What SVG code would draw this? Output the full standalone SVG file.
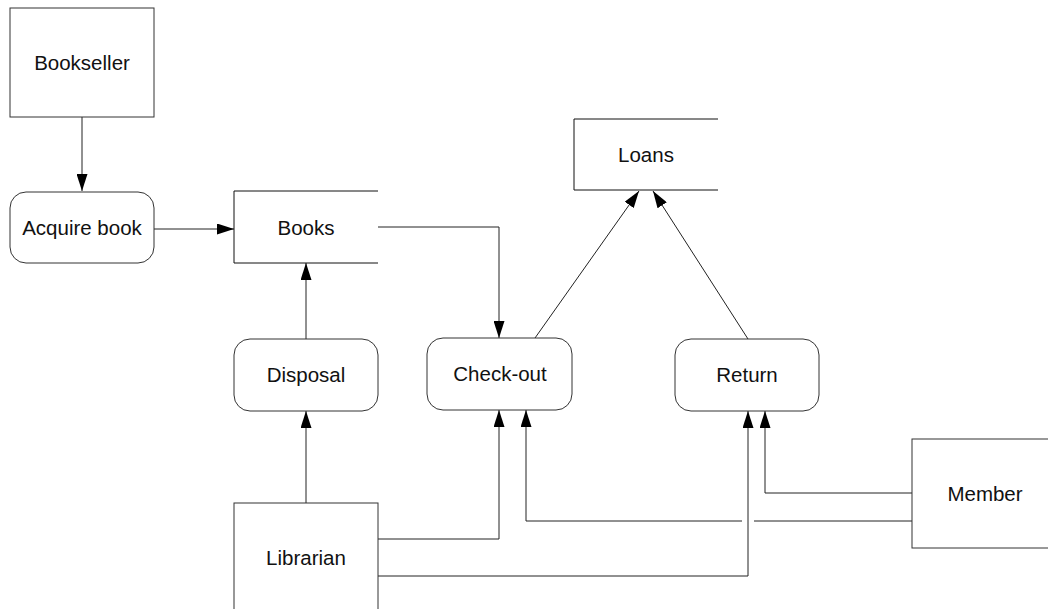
<svg xmlns="http://www.w3.org/2000/svg" width="1048" height="609" viewBox="0 0 1048 609">
<style>
.box{fill:#fff;stroke:#333;stroke-width:1}
.ds{fill:none;stroke:#111;stroke-width:1}
.lbl{font-family:"Liberation Sans",Arial,sans-serif;font-size:20.5px;fill:#111;text-anchor:middle;dominant-baseline:central}
.c{fill:none;stroke:#222;stroke-width:1}
</style>
<defs>
<marker id="ah" viewBox="0 0 17 11" refX="17" refY="5.5" markerWidth="17" markerHeight="11" markerUnits="userSpaceOnUse" orient="auto">
<path d="M0,0 L17,5.5 L0,11 z" fill="#000"/>
</marker>
</defs>
<rect width="1048" height="609" fill="#fff"/>
<g id="connectors">
<path class="c" d="M82,117 V191" marker-end="url(#ah)"/>
<path class="c" d="M154,229 H234" marker-end="url(#ah)"/>
<path class="c" d="M378,227 H499 V338" marker-end="url(#ah)"/>
<path class="c" d="M535,338 L639,191" marker-end="url(#ah)"/>
<path class="c" d="M748,339 L653,191" marker-end="url(#ah)"/>
<path class="c" d="M306,339 V263" marker-end="url(#ah)"/>
<path class="c" d="M306,503 V411" marker-end="url(#ah)"/>
<path class="c" d="M378,539 H499 V410" marker-end="url(#ah)"/>
<path class="c" d="M378,576 H748 V411" marker-end="url(#ah)"/>
<path class="c" d="M912,493 H765 V411" marker-end="url(#ah)"/>
<path class="c" d="M912,521 H754 M742,521 H526 V410" marker-end="url(#ah)"/>
</g>
<g id="bookseller">
<rect class="box" x="10" y="8" width="144" height="109"/>
<text class="lbl" x="82" y="62">Bookseller</text>
</g>
<g id="acquire-book">
<rect class="box" x="10" y="192" width="144" height="71" rx="16"/>
<text class="lbl" x="82" y="227">Acquire book</text>
</g>
<g id="books">
<path class="ds" d="M378,191 H234 V263 H378"/>
<text class="lbl" x="306" y="227">Books</text>
</g>
<g id="loans">
<path class="ds" d="M718,119 H574 V190 H718"/>
<text class="lbl" x="646" y="154">Loans</text>
</g>
<g id="disposal">
<rect class="box" x="234" y="339" width="144" height="72" rx="16"/>
<text class="lbl" x="306" y="374">Disposal</text>
</g>
<g id="check-out">
<rect class="box" x="427" y="338" width="145" height="72" rx="16"/>
<text class="lbl" x="500" y="373">Check-out</text>
</g>
<g id="return">
<rect class="box" x="675" y="339" width="144" height="72" rx="16"/>
<text class="lbl" x="747" y="374">Return</text>
</g>
<g id="librarian">
<rect class="box" x="234" y="503" width="144" height="120"/>
<text class="lbl" x="306" y="557">Librarian</text>
</g>
<g id="member">
<rect class="box" x="912" y="439" width="150" height="109"/>
<text class="lbl" x="985" y="493">Member</text>
</g>
</svg>
